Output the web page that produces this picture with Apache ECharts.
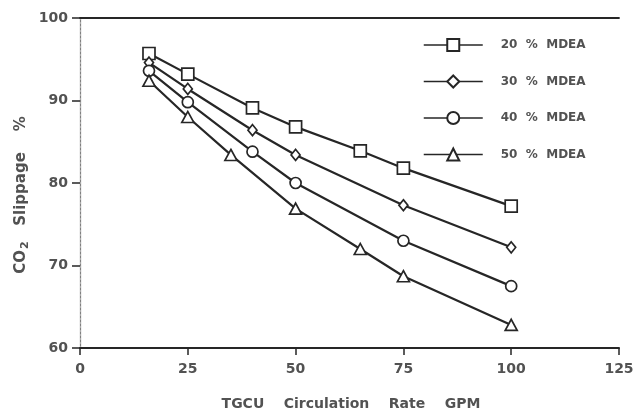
<!DOCTYPE html>
<html>
<head>
<meta charset="utf-8">
<script src="https://cdn.jsdelivr.net/npm/echarts@6/dist/echarts.min.js"></script>
<style>
  html, body { margin: 0; padding: 0; background: #fff; }
  #chart { width: 637px; height: 410px; }
</style>
</head>
<body>
<div id="chart"></div>
<script>
// data
const xTicks = [0, 25, 50, 75, 100, 125];
const yTicks = [60, 70, 80, 90, 100];

const names = ['20 % MDEA', '30 % MDEA', '40 % MDEA', '50 % MDEA'];
const rate20 = [16, 25, 40, 50, 65, 75, 100];
const slip20 = [95.7, 93.2, 89.1, 86.8, 83.9, 81.8, 77.2];
const rate30 = [16, 25, 40, 50, 75, 100];
const slip30 = [94.6, 91.4, 86.4, 83.4, 77.3, 72.2];
const rate40 = [16, 25, 40, 50, 75, 100];
const slip40 = [93.6, 89.8, 83.8, 80.0, 73.0, 67.5];
const rate50 = [16, 25, 35, 50, 65, 75, 100];
const slip50 = [92.4, 88.0, 83.4, 76.9, 72.0, 68.7, 62.8];

const chart = echarts.init(document.getElementById('chart'));

const ink = '#262626';
const txt = '#525252';
const font = 'DejaVu Sans, sans-serif';

function pairs(xs, ys) {
    return xs.map((x, i) => [x, ys[i]]);
}

function lineSeries(name, xs, ys, symbol, size) {
    return {
        name: name,
        type: 'line',
        data: pairs(xs, ys),
        symbol: symbol,
        symbolSize: size,
        showAllSymbol: true,
        lineStyle: { color: ink, width: 2.2 },
        itemStyle: { color: '#fff', borderColor: ink, borderWidth: 1.7 },
        emphasis: { disabled: true },
        z: 3
    };
}

const option = {
    backgroundColor: '#fff',
    animation: false,
    grid: { left: 80, right: 18, top: 18, bottom: 62 },
    legend: {
        orient: 'vertical',
        left: 423,
        top: 38,
        padding: 0,
        itemWidth: 59,
        itemHeight: 15,
        itemGap: 22.5,
        data: names,
        formatter: n => n.replace(/ /g, '  '),
        lineStyle: { width: 1.5 },
        textStyle: { color: txt, fontFamily: font, fontSize: 12, fontWeight: 'bold', padding: [0, 0, 0, 13] }
    },
    xAxis: [{
        type: 'value',
        min: 0, max: 125, interval: 25,
        axisLine: { lineStyle: { color: ink, width: 2 } },
        axisTick: { show: true, inside: false, length: 7, lineStyle: { color: ink, width: 1.5 } },
        axisLabel: {
            margin: 14, color: txt, fontFamily: font, fontSize: 14, fontWeight: 'bold',
            formatter: v => xTicks.includes(v) ? String(v) : ''
        },
        splitLine: { show: false }
    }, {
        type: 'value', position: 'top',
        min: 0, max: 125,
        axisLine: { lineStyle: { color: ink, width: 1.8 } },
        axisTick: { show: false }, axisLabel: { show: false }, splitLine: { show: false }
    }],
    yAxis: [{
        type: 'value',
        min: 60, max: 100, interval: 10,
        axisLine: { show: true, lineStyle: { color: '#666', width: 1.2 } },
        axisTick: { show: true, inside: false, length: 8, lineStyle: { color: ink, width: 1.5 } },
        axisLabel: {
            margin: 12, color: txt, fontFamily: font, fontSize: 14, fontWeight: 'bold',
            formatter: v => yTicks.includes(v) ? String(v) : ''
        },
        splitLine: { show: false }
    }, {
        type: 'value', position: 'right',
        min: 60, max: 100,
        axisLine: { show: true, lineStyle: { color: '#aaa', width: 1, type: [2, 2] } },
        axisTick: { show: false }, axisLabel: { show: false }, splitLine: { show: false }
    }],
    graphic: [{
        type: 'text',
        x: 351, y: 404,
        style: {
            text: 'TGCU    Circulation    Rate    GPM',
            fill: txt, font: 'bold 14px ' + font,
            align: 'center', verticalAlign: 'middle'
        }
    }, {
        type: 'text',
        x: 21, y: 195,
        rotation: Math.PI / 2,
        style: {
            text: '{a|CO}{s|2}{a|   Slippage    %}',
            rich: {
                a: { fill: txt, fontSize: 15, fontWeight: 'bold', fontFamily: font },
                s: { fill: txt, fontSize: 11, fontWeight: 'bold', fontFamily: font, padding: [8, 0, 0, 1] }
            },
            align: 'center', verticalAlign: 'middle'
        }
    }],
    series: [
        lineSeries(names[0], rate20, slip20, 'rect', 12),
        lineSeries(names[1], rate30, slip30, 'diamond', [9, 11]),
        lineSeries(names[2], rate40, slip40, 'circle', 11),
        lineSeries(names[3], rate50, slip50, 'triangle', [12, 11])
    ]
};

chart.setOption(option);
</script>
</body>
</html>
